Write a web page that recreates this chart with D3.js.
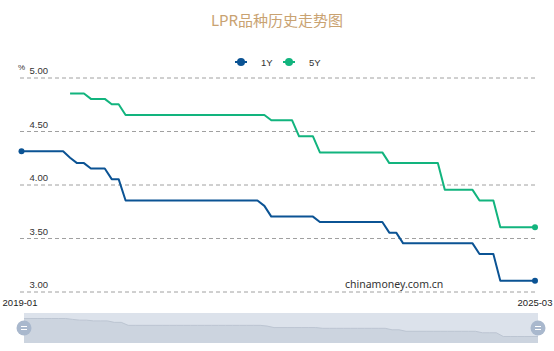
<!DOCTYPE html>
<html>
  <head>
    <meta charset="utf-8">
    <title>LPR品种历史走势图</title>
    <script src="https://d3js.org/d3.v7.min.js"></script>
    <style>
      body { margin: 0; background: #fff; }
    </style>
  </head>
  <body>
    <div id="lprChart"></div>
    <script>
      // 月份（类目）
      const months = [
        "2019-01","2019-02","2019-03","2019-04","2019-05","2019-06","2019-07","2019-08","2019-09","2019-10","2019-11","2019-12",
        "2020-01","2020-02","2020-03","2020-04","2020-05","2020-06","2020-07","2020-08","2020-09","2020-10","2020-11","2020-12",
        "2021-01","2021-02","2021-03","2021-04","2021-05","2021-06","2021-07","2021-08","2021-09","2021-10","2021-11","2021-12",
        "2022-01","2022-02","2022-03","2022-04","2022-05","2022-06","2022-07","2022-08","2022-09","2022-10","2022-11","2022-12",
        "2023-01","2023-02","2023-03","2023-04","2023-05","2023-06","2023-07","2023-08","2023-09","2023-10","2023-11","2023-12",
        "2024-01","2024-02","2024-03","2024-04","2024-05","2024-06","2024-07","2024-08","2024-09","2024-10","2024-11","2024-12",
        "2025-01","2025-02","2025-03"
      ];
      // 1Y LPR
      const lpr1Y = [
        4.31,4.31,4.31,4.31,4.31,4.31,4.31,4.25,4.20,4.20,4.15,4.15,
        4.15,4.05,4.05,3.85,3.85,3.85,3.85,3.85,3.85,3.85,3.85,3.85,
        3.85,3.85,3.85,3.85,3.85,3.85,3.85,3.85,3.85,3.85,3.85,3.80,
        3.70,3.70,3.70,3.70,3.70,3.70,3.70,3.65,3.65,3.65,3.65,3.65,
        3.65,3.65,3.65,3.65,3.65,3.55,3.55,3.45,3.45,3.45,3.45,3.45,
        3.45,3.45,3.45,3.45,3.45,3.45,3.35,3.35,3.35,3.10,3.10,3.10,
        3.10,3.10,3.10
      ];
      // 5Y LPR（2019-08 起）
      const lpr5Y = [
        null,null,null,null,null,null,null,4.85,4.85,4.85,4.80,4.80,
        4.80,4.75,4.75,4.65,4.65,4.65,4.65,4.65,4.65,4.65,4.65,4.65,
        4.65,4.65,4.65,4.65,4.65,4.65,4.65,4.65,4.65,4.65,4.65,4.65,
        4.60,4.60,4.60,4.60,4.45,4.45,4.45,4.30,4.30,4.30,4.30,4.30,
        4.30,4.30,4.30,4.30,4.30,4.20,4.20,4.20,4.20,4.20,4.20,4.20,
        4.20,3.95,3.95,3.95,3.95,3.95,3.85,3.85,3.85,3.60,3.60,3.60,
        3.60,3.60,3.60
      ];
      const yTicks = [3.00, 3.50, 4.00, 4.50, 5.00];
      const seriesNames = ["1Y", "5Y"];
      const seriesColors = ["#0b5394", "#12b47e"];

      const width = 554, height = 351;
      const svg = d3.select("#lprChart")
                    .append("svg")
                    .attr("width", width)
                    .attr("height", height)
                    .style("display", "block");

      const labelFont = "'Liberation Sans', Arial, sans-serif";

      // 标题
      svg.append("text")
         .attr("x", 277)
         .attr("y", 26)
         .attr("text-anchor", "middle")
         .attr("font-size", 15)
         .attr("font-family", "'Noto Sans CJK SC', sans-serif")
         .attr("font-weight", 400)
         .attr("fill", "#c9a271")
         .text("LPR品种历史走势图");

      // 比例尺
      const xScale = d3.scalePoint()
                       .domain(months)
                       .range([21.5, 535]);
      const yScale = d3.scaleLinear()
                       .domain([3, 5])
                       .range([291.5, 77.5]);

      // 网格线 + Y轴标签
      const yAxis = svg.append("g")
                       .attr("transform", "translate(20, 0)")
                       .call(d3.axisRight(yScale)
                               .tickValues(yTicks)
                               .tickSize(515)
                               .tickFormat(d3.format(".2f")));
      yAxis.select(".domain").remove();
      yAxis.selectAll(".tick line")
           .attr("stroke", "#a0a0a0")
           .attr("stroke-dasharray", "4,3");
      yAxis.selectAll(".tick text")
           .attr("x", 9.5)
           .attr("dy", -4)
           .attr("text-anchor", "start")
           .attr("font-size", 9.5)
           .attr("font-family", labelFont)
           .attr("fill", "#333");

      svg.append("text")
         .attr("x", 18)
         .attr("y", 70)
         .attr("font-size", 8)
         .attr("font-family", labelFont)
         .attr("fill", "#333")
         .text("%");

      // 水印
      svg.append("text")
         .attr("x", 345)
         .attr("y", 288)
         .attr("font-size", 10.5)
         .attr("font-family", "'Noto Sans', sans-serif")
         .attr("fill", "#333")
         .text("chinamoney.com.cn");

      // 折线
      const series = [lpr1Y, lpr5Y];
      const line = d3.line()
                     .defined(d => d.v !== null)
                     .x(d => xScale(d.m))
                     .y(d => yScale(d.v));
      series.forEach((vals, i) => {
        const pts = months.map((m, j) => ({m: m, v: vals[j]}));
        svg.append("path")
           .datum(pts)
           .attr("fill", "none")
           .attr("stroke", seriesColors[i])
           .attr("stroke-width", 2)
           .attr("stroke-linejoin", "round")
           .attr("d", line);
      });

      // 端点
      const dots = [
        {m: months[0], v: lpr1Y[0], c: seriesColors[0]},
        {m: months[months.length - 1], v: lpr1Y[lpr1Y.length - 1], c: seriesColors[0]},
        {m: months[months.length - 1], v: lpr5Y[lpr5Y.length - 1], c: seriesColors[1]}
      ];
      svg.selectAll(".end-dot")
         .data(dots)
         .join("circle")
         .attr("class", "end-dot")
         .attr("cx", d => xScale(d.m))
         .attr("cy", d => yScale(d.v))
         .attr("r", 3)
         .attr("fill", d => d.c);

      // 图例
      const legendX = [235, 283];
      const legend = svg.selectAll(".legend")
                        .data(seriesNames)
                        .join("g")
                        .attr("class", "legend")
                        .attr("transform", (d, i) => `translate(${legendX[i]}, 62)`);
      legend.append("line")
            .attr("x1", 0).attr("x2", 12)
            .attr("stroke", (d, i) => seriesColors[i])
            .attr("stroke-width", 2);
      legend.append("circle")
            .attr("cx", 6).attr("r", 4)
            .attr("fill", (d, i) => seriesColors[i]);
      legend.append("text")
            .attr("x", 26)
            .attr("y", 3.5)
            .attr("font-size", 9.5)
            .attr("font-family", labelFont)
            .attr("fill", "#333")
            .text(d => d);

      // 区域缩放滑块
      const sliderX = d3.scalePoint().domain(months).range([24, 538]);
      const sliderY = d3.scaleLinear().domain([3.10, 4.31]).range([336.5, 318.5]);
      const sliderTop = 313, sliderBottom = 343;
      svg.append("rect")
         .attr("x", 24).attr("y", sliderTop)
         .attr("width", 514).attr("height", sliderBottom - sliderTop)
         .attr("fill", "#dce2eb");
      const shadowPts = months.map((m, j) => ({m: m, v: lpr1Y[j]}));
      svg.append("path")
         .datum(shadowPts)
         .attr("fill", "#ccd4df")
         .attr("d", d3.area()
                      .x(d => sliderX(d.m))
                      .y0(sliderBottom)
                      .y1(d => sliderY(d.v)));
      svg.append("path")
         .datum(shadowPts)
         .attr("fill", "none")
         .attr("stroke", "#bcc5d2")
         .attr("stroke-width", 1)
         .attr("d", d3.line()
                      .x(d => sliderX(d.m))
                      .y(d => sliderY(d.v)));

      const handles = svg.selectAll(".handle")
                         .data([months[0], months[months.length - 1]])
                         .join("g")
                         .attr("class", "handle")
                         .attr("transform", d => `translate(${sliderX(d)}, 328)`);
      handles.append("circle")
             .attr("r", 7.5)
             .attr("fill", "#a9b8cd");
      handles.selectAll(".bar")
             .data([-1.5, 1.5])
             .join("line")
             .attr("class", "bar")
             .attr("x1", -3).attr("x2", 3)
             .attr("y1", d => d).attr("y2", d => d)
             .attr("stroke", "#fff")
             .attr("stroke-width", 1);

      svg.selectAll(".slider-label")
         .data([months[0], months[months.length - 1]])
         .join("text")
         .attr("class", "slider-label")
         .attr("x", (d, i) => i === 0 ? 20 : 535)
         .attr("y", 306)
         .attr("text-anchor", "middle")
         .attr("font-size", 9.5)
         .attr("font-family", labelFont)
         .attr("fill", "#222")
         .text(d => d);
    </script>
  </body>
</html>
